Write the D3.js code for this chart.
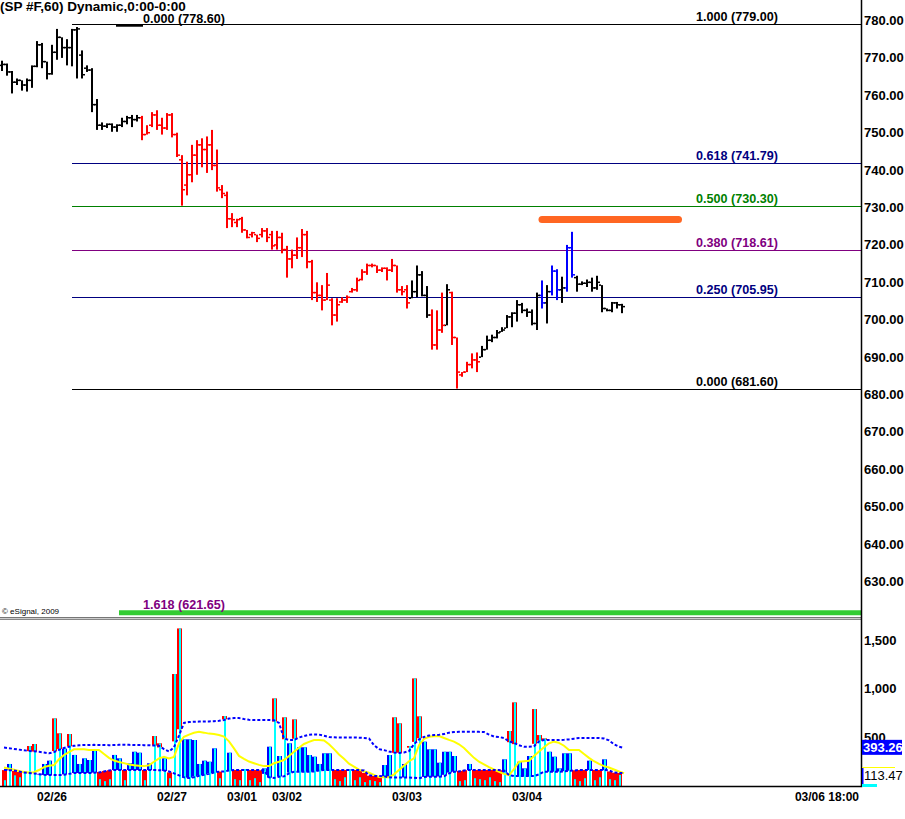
<!DOCTYPE html>
<html>
<head>
<meta charset="utf-8">
<script src="https://cdn.jsdelivr.net/npm/d3@7"></script>
<style>
  body { margin: 0; background: #fff; }
  svg { display: block; }
  text { font-family: "Liberation Sans", Arial, sans-serif; }
</style>
</head>
<body>
<div id="chart"></div>
<script>
// 60 minute bars, oldest first
var openPx = [768.0, 768.25, 766.25, 763.5, 764.0, 762.75, 764.0, 767.75, 773.5, 769.0, 765.75, 771.5, 775.5, 772.75, 772.75, 777.5, 770.75, 767.25, 766.75, 757.5,
  752.0, 751.75, 752.25, 751.5, 752.0, 753.0, 754.0, 753.5, 754.0, 749.5, 752.0, 754.75, 752.0, 751.25, 754.75, 749.5, 742.75, 736.0, 738.75, 744.0,
  746.75, 745.5, 746.75, 741.25, 734.75, 733.25, 727.0, 726.0, 727.0, 724.0, 722.75, 722.75, 722.75, 723.75, 722.75, 720.0, 722.0, 718.75, 716.25, 717.25,
  719.25, 722.75, 715.5, 707.25, 706.5, 705.25, 705.25, 701.25, 704.75, 705.25, 707.5, 708.0, 710.75, 712.75, 714.5, 714.5, 713.25, 713.75, 713.25, 714.5,
  708.0, 708.0, 705.75, 707.5, 712.0, 706.5, 701.25, 693.25, 697.25, 698.5, 707.25, 695.25, 685.25, 686.0, 688.0, 689.25, 690.0, 692.0, 694.5, 695.25,
  696.75, 697.75, 700.75, 701.75, 704.0, 702.5, 702.0, 699.0, 706.5, 704.5, 707.5, 713.0, 708.0, 708.5, 719.25, 711.25, 709.5, 709.75, 710.0, 708.5,
  709.25, 703.0, 702.5, 704.5, 704.0];
var highPx = [769.25, 768.5, 766.5, 764.5, 764.0, 764.5, 768.0, 774.5, 774.0, 769.0, 773.5, 777.75, 775.5, 775.0, 777.75, 778.25, 772.0, 768.0, 767.25, 759.0,
  752.75, 752.5, 752.5, 752.25, 754.0, 754.5, 754.75, 754.75, 754.5, 752.0, 755.5, 756.0, 754.0, 755.25, 755.25, 750.0, 744.0, 742.25, 746.75, 748.0,
  748.5, 749.0, 750.75, 745.5, 736.0, 734.25, 728.5, 727.0, 727.5, 724.0, 723.5, 722.75, 724.5, 724.5, 723.75, 723.75, 723.25, 719.75, 718.75, 722.0,
  724.25, 723.75, 716.0, 710.0, 709.25, 712.5, 705.75, 705.75, 706.0, 706.5, 708.5, 711.25, 713.5, 715.0, 715.0, 714.5, 714.0, 714.0, 716.25, 714.5,
  709.0, 709.25, 710.5, 714.5, 713.0, 709.0, 702.75, 702.5, 707.25, 709.5, 707.5, 695.25, 686.0, 688.75, 691.0, 691.25, 693.0, 695.75, 696.0, 697.25,
  698.0, 701.25, 702.0, 705.25, 704.5, 703.0, 702.75, 707.25, 710.5, 709.25, 714.5, 713.5, 711.5, 720.0, 723.5, 711.75, 710.25, 710.75, 711.25, 711.75,
  709.25, 703.0, 704.75, 704.75, 704.25];
var lowPx = [766.5, 765.25, 760.5, 762.75, 761.25, 761.0, 762.0, 767.5, 767.25, 764.25, 765.5, 769.5, 770.0, 768.0, 767.75, 764.5, 764.5, 766.25, 755.5, 750.75,
  750.75, 751.25, 750.25, 750.25, 751.5, 752.25, 751.5, 753.0, 748.0, 749.5, 751.5, 750.75, 749.5, 750.75, 748.75, 743.5, 730.5, 733.25, 736.75, 738.75,
  740.75, 739.25, 740.0, 734.25, 732.5, 724.5, 724.75, 724.75, 723.25, 721.75, 722.0, 720.75, 722.0, 720.75, 718.75, 718.75, 717.75, 711.25, 713.75, 716.25,
  716.75, 713.75, 705.25, 704.75, 702.5, 705.25, 698.5, 699.5, 704.5, 704.5, 707.25, 707.5, 710.5, 712.0, 714.0, 712.5, 712.75, 710.5, 712.75, 707.25,
  706.5, 703.0, 705.75, 706.0, 706.25, 700.5, 692.0, 692.0, 696.5, 698.5, 693.25, 681.6, 684.75, 686.0, 687.0, 686.0, 690.0, 692.0, 694.0, 695.0,
  696.75, 697.75, 698.0, 699.5, 701.75, 700.75, 698.5, 697.25, 703.0, 699.0, 706.5, 705.25, 704.5, 707.5, 711.25, 707.5, 709.25, 708.75, 707.5, 708.0,
  702.0, 702.25, 702.0, 703.0, 701.75];
var closePx = [768.25, 766.25, 763.5, 764.0, 762.75, 764.0, 767.75, 773.5, 769.0, 765.75, 771.5, 775.5, 772.75, 772.75, 777.5, 777.75, 765.5, 766.75, 757.5, 752.0,
  751.75, 752.25, 751.5, 752.0, 753.0, 754.0, 753.5, 754.0, 749.5, 750.0, 754.75, 752.0, 751.25, 754.75, 749.5, 744.0, 734.75, 738.75, 744.0, 746.75,
  745.5, 746.75, 741.25, 735.25, 733.75, 727.0, 726.75, 726.75, 724.0, 722.0, 723.25, 721.75, 723.75, 722.0, 719.75, 722.0, 718.75, 716.25, 717.25, 719.25,
  722.75, 715.5, 707.25, 706.5, 705.25, 709.25, 701.25, 704.0, 705.25, 706.0, 708.0, 710.5, 712.75, 714.5, 714.5, 713.25, 713.75, 713.25, 714.5, 708.0,
  707.5, 704.5, 707.5, 712.0, 706.5, 701.25, 693.25, 697.25, 698.5, 708.0, 695.25, 686.0, 686.0, 688.0, 689.25, 688.75, 692.0, 694.5, 695.25, 696.5,
  697.25, 700.75, 701.75, 704.0, 702.5, 702.0, 699.0, 706.5, 704.5, 707.5, 713.0, 708.0, 708.5, 719.25, 712.0, 709.5, 709.75, 710.0, 708.5, 710.0,
  703.0, 702.5, 704.5, 704.0, 703.5];
// bar colour runs: k = black, r = red, b = blue
var barColorRuns = [["k", 28], ["r", 54], ["k", 4], ["r", 3], ["k", 1], ["r", 6], ["k", 12], ["b", 1], ["k", 1], ["b", 2], ["k", 1], ["b", 2], ["k", 10]];

// volume study
var volume = [60, 227, 110, 90, 140, 412, 433, 125, 227, 261, 697, 543, 385, 536, 320, 227, 285, 268, 371, 70,
  50, 70, 320, 285, 60, 234, 353, 343, 60, 234, 515, 440, 285, 80, 1154, 1624, 481, 481, 474, 227,
  261, 250, 388, 80, 721, 343, 70, 60, 175, 60, 80, 40, 182, 405, 903, 309, 708, 440, 687, 399,
  399, 319, 302, 227, 337, 337, 70, 50, 90, 170, 60, 90, 40, 60, 50, 40, 216, 319, 708, 646,
  227, 412, 1109, 718, 457, 378, 378, 240, 353, 353, 309, 50, 60, 227, 80, 70, 60, 90, 50, 40,
  275, 567, 862, 250, 182, 309, 793, 525, 491, 353, 302, 182, 337, 337, 70, 50, 80, 261, 60, 90,
  275, 70, 60, 113.47];
var volUpper = [396, 390, 382, 375, 368, 362, 357, 353, 345, 337, 350, 372, 392, 405, 414, 420,
  422, 423, 424, 423, 422, 421, 422, 424, 425, 424, 423, 422, 421, 420, 418, 415,
  380, 355, 400, 520, 650, 660, 662, 664, 665, 666, 668, 672, 680,
  695, 700, 700, 690, 682, 680, 680, 681, 680, 678,
  650, 490, 474, 474, 500, 515, 528, 532, 530, 518,
  505, 502, 500, 500, 500, 500, 498, 495, 490,
  420, 380, 370, 355, 345, 340, 345, 360, 430, 480, 505,
  520, 525, 528, 535, 550, 556, 559, 560, 560, 559, 558, 556,
  530, 510, 505, 495, 460, 443, 420, 405, 405, 410, 460, 474,
  474, 474, 474, 476, 480, 488, 494, 494, 494, 494, 494, 490,
  470, 430, 405, 393.26];
var volLower = [165, 163, 160, 150, 138, 134, 130, 122, 115, 113, 113, 113, 115,
  125, 134, 134, 134, 134, 136, 140,
  150, 160, 165, 165, 165, 165, 165, 165, 165, 165, 165, 163, 160, 150,
  130, 110, 90, 82, 90, 105, 115, 125, 140, 147, 150,
  160, 165, 165, 165, 165, 165, 165, 160,
  90, 82, 96, 100, 130, 147, 147, 147, 147, 150,
  160, 165, 165, 165, 165, 165, 165, 165, 165, 160,
  110, 103, 103, 100, 90, 88, 88, 88, 88, 85,
  80, 92, 96, 96, 96, 100,
  130, 147, 150, 160, 165, 165, 165, 165, 165, 165, 165, 160,
  113, 103, 103, 103, 103, 103,
  120, 147, 147, 147, 147, 150, 155,
  160, 165, 165, 165, 165, 165, 165, 160,
  140, 134, 134];
var volAvg = [190, 178, 168, 155, 145, 140, 142, 165, 195, 208,
  216, 275, 320, 350, 378, 380, 378, 372, 371, 371,
  330, 290, 262, 248, 236, 222, 213, 208, 205, 214,
  250, 285, 300, 285, 300, 440, 508, 530, 548, 558,
  550, 540, 535, 525, 510, 460, 388, 310, 280, 252,
  235, 218, 205, 205, 234, 250, 268, 310, 353, 395,
  433, 455, 474, 475, 470, 430, 380, 325, 280, 230,
  200, 168, 150, 138, 115, 92, 90, 90, 120, 165,
  210, 255, 285, 420, 485, 508, 512, 515, 495, 475,
  458, 430, 392, 340, 290, 250, 222, 195, 170, 145,
  125, 113, 175, 250, 255, 261, 310, 355, 400, 440,
  457, 445, 415, 371, 371, 371, 330, 290, 255, 228,
  205, 190, 170, 150, 131];

var priceTicks = [630, 640, 650, 660, 670, 680, 690, 700, 710, 720, 730, 740, 750, 760, 770, 780];
var volTicks = [500, 1000, 1500];
var dateTicks = [
  { label: "02/26", bar: 11 },
  { label: "02/27", bar: 35 },
  { label: "03/01", bar: 49 },
  { label: "03/02", bar: 58 },
  { label: "03/03", bar: 82 },
  { label: "03/04", bar: 106 }
];
var lastTimeLabel = "03/06 18:00";

// retracement drawn from the 779.00 high to the 681.60 low
var fibLevels = [
  { ratio: "1.000", price: 779.0 },
  { ratio: "0.618", price: 741.79 },
  { ratio: "0.500", price: 730.3 },
  { ratio: "0.380", price: 718.61 },
  { ratio: "0.250", price: 705.95 },
  { ratio: "0.000", price: 681.6 }
];
// extension drawn from 778.60
var fibExtension = [
  { ratio: "0.000", price: 778.6 },
  { ratio: "1.618", price: 621.65 }
];
var orangeMark = { fromBar: 109, toBar: 136.3, price: 726.8 };

var width = 905, height = 819;
var axisX = 861.5;
var fibColor = {
  "1.000": "#000000", "0.618": "#000080", "0.500": "#008000",
  "0.380": "#800080", "0.250": "#000080", "0.000": "#000000"
};

var svg = d3.select("#chart").append("svg")
  .attr("width", width).attr("height", height)
  .style("background", "#fff");

var x = d3.scaleLinear().domain([1, 125]).range([2, 622]);
var y = d3.scaleLinear().domain([620.52, 785.48]).range([617, 0]);
var yv = d3.scaleLinear().domain([0, 1711]).range([786, 620]);

// expand colour runs
var colorOf = { k: "#000000", r: "#ff0000", b: "#0000ff" };
var barColor = [];
barColorRuns.forEach(function (r) {
  for (var n = 0; n < r[1]; n++) barColor.push(colorOf[r[0]]);
});

var bars = highPx.map(function (h, i) {
  return { i: i + 1, o: openPx[i], h: h, l: lowPx[i], c: closePx[i], col: barColor[i] };
});

//header
svg.append("text").attr("x", 0).attr("y", 11)
  .attr("font-size", 13.5).attr("font-weight", "bold")
  .text("(SP #F,60) Dynamic,0:00-0:00");

// fib retracement lines
var fibStart = x(15);
svg.selectAll(".fib").data(fibLevels).enter().append("line")
  .attr("x1", fibStart).attr("x2", axisX)
  .attr("y1", function (d) { return Math.round(y(d.price)) + 0.5; })
  .attr("y2", function (d) { return Math.round(y(d.price)) + 0.5; })
  .attr("stroke", function (d) { return fibColor[d.ratio]; })
  .attr("stroke-width", 1);
svg.selectAll(".fibText").data(fibLevels).enter().append("text")
  .attr("x", 696)
  .attr("y", function (d) { return Math.round(y(d.price)) - 3; })
  .attr("font-size", 12.6).attr("font-weight", "bold")
  .attr("fill", function (d) { return fibColor[d.ratio]; })
  .text(function (d) { return d.ratio + " (" + d.price.toFixed(2) + ")"; });

// extension: short line at the start, long green line at 1.618
svg.append("line")
  .attr("x1", x(23.8)).attr("x2", x(29.2))
  .attr("y1", y(fibExtension[0].price)).attr("y2", y(fibExtension[0].price))
  .attr("stroke", "#000").attr("stroke-width", 2);
svg.append("text").attr("x", 143).attr("y", Math.round(y(fibExtension[0].price)) - 3)
  .attr("font-size", 12.6).attr("font-weight", "bold").attr("fill", "#000")
  .text(fibExtension[0].ratio + " (" + fibExtension[0].price.toFixed(2) + ")");
svg.append("line")
  .attr("x1", x(24.4)).attr("x2", axisX)
  .attr("y1", y(fibExtension[1].price)).attr("y2", y(fibExtension[1].price))
  .attr("stroke", "#33cc33").attr("stroke-width", 5);
svg.append("text").attr("x", 143).attr("y", Math.round(y(fibExtension[1].price)) - 4)
  .attr("font-size", 12.6).attr("font-weight", "bold").attr("fill", "#800080")
  .text(fibExtension[1].ratio + " (" + fibExtension[1].price.toFixed(2) + ")");

// orange marker
svg.append("line")
  .attr("x1", x(orangeMark.fromBar)).attr("x2", x(orangeMark.toBar))
  .attr("y1", y(orangeMark.price)).attr("y2", y(orangeMark.price))
  .attr("stroke", "#ff6622").attr("stroke-width", 7).attr("stroke-linecap", "round");

// price bars
var pg = svg.append("g");
pg.selectAll(".hl").data(bars).enter().append("rect")
  .attr("x", function (d) { return Math.round(x(d.i)) - 1; })
  .attr("y", function (d) { return y(d.h); })
  .attr("width", 2)
  .attr("height", function (d) { return Math.max(1, y(d.l) - y(d.h)); })
  .attr("fill", function (d) { return d.col; });
pg.selectAll(".op").data(bars).enter().append("rect")
  .attr("x", function (d) { return Math.round(x(d.i)) - 3; })
  .attr("y", function (d) { return y(d.o) - 0.75; })
  .attr("width", 2).attr("height", 1.5)
  .attr("fill", function (d) { return d.col; });
pg.selectAll(".cl").data(bars).enter().append("rect")
  .attr("x", function (d) { return Math.round(x(d.i)) + 1; })
  .attr("y", function (d) { return y(d.c) - 0.75; })
  .attr("width", 2).attr("height", 1.5)
  .attr("fill", function (d) { return d.col; });

svg.append("text").attr("x", 2).attr("y", 614)
  .attr("font-size", 8).text("\u00a9 eSignal, 2009");

// panel separator
svg.append("rect").attr("x", 0).attr("y", 617).attr("width", 862).attr("height", 1).attr("fill", "#777");
svg.append("rect").attr("x", 0).attr("y", 618).attr("width", 862).attr("height", 1).attr("fill", "#ccc");
svg.append("rect").attr("x", 0).attr("y", 619).attr("width", 862).attr("height", 1).attr("fill", "#888");

// volume slots
var slots = volume.map(function (v, j) {
  var up = (volUpper[j] + volUpper[j + 1]) / 2;
  var lo = (volLower[j] + volLower[j + 1]) / 2;
  return { j: j, v: v, up: up, lo: lo, x0: Math.round(x(j + 1)) };
});
var vg = svg.append("g");
vg.selectAll(".lowv").data(slots.filter(function (d) { return d.v < d.lo; })).enter().append("rect")
  .attr("x", function (d) { return d.x0; }).attr("width", 5)
  .attr("y", function (d) { return yv(d.lo); })
  .attr("height", function (d) { return yv(0) - yv(d.lo); })
  .attr("fill", "#ff0000");
vg.selectAll(".midv").data(slots.filter(function (d) { return d.v >= d.lo && d.v <= d.up; })).enter().append("rect")
  .attr("x", function (d) { return d.x0; }).attr("width", 5)
  .attr("y", function (d) { return yv(d.v); })
  .attr("height", function (d) { return yv(d.lo) - yv(d.v); })
  .attr("fill", "#0000ff");
vg.selectAll(".hiv").data(slots.filter(function (d) { return d.v > d.up; })).enter().append("rect")
  .attr("x", function (d) { return d.x0; }).attr("width", 5)
  .attr("y", function (d) { return yv(d.v); })
  .attr("height", function (d) { return yv(d.up) - yv(d.v); })
  .attr("fill", "#ff0000");
vg.selectAll(".cyan").data(slots).enter().append("rect")
  .attr("x", function (d) { return d.x0 + 2; }).attr("width", 2)
  .attr("y", function (d) { return yv(d.v); })
  .attr("height", function (d) { return yv(0) - yv(d.v); })
  .attr("fill", "#00ffff");

var bandLine = function (arr) {
  return d3.line().x(function (d, i) { return x(i + 1) + 2; }).y(function (d) { return yv(d); })(arr);
};
svg.append("path").attr("d", bandLine(volAvg))
  .attr("fill", "none").attr("stroke", "#ffff00").attr("stroke-width", 2);
[volUpper, volLower].forEach(function (arr) {
  svg.append("path").attr("d", bandLine(arr))
    .attr("fill", "none").attr("stroke", "#0000ff").attr("stroke-width", 2)
    .attr("stroke-dasharray", "3,2");
});

// axes
svg.append("line").attr("x1", axisX).attr("x2", axisX).attr("y1", 0).attr("y2", 787)
  .attr("stroke", "#000").attr("stroke-width", 1.5);
svg.append("line").attr("x1", 0).attr("x2", axisX + 0.75).attr("y1", 786.5).attr("y2", 786.5)
  .attr("stroke", "#000").attr("stroke-width", 1.5);

svg.selectAll(".pt").data(priceTicks).enter().append("text")
  .attr("x", 864).attr("y", function (d) { return y(d) + 4.5; })
  .attr("font-size", 13).attr("font-weight", "bold")
  .text(function (d) { return d.toFixed(2); });
svg.selectAll(".vt").data(volTicks).enter().append("text")
  .attr("x", 864).attr("y", function (d) { return yv(d) + 4.5; })
  .attr("font-size", 13).attr("font-weight", "bold")
  .text(d3.format(","));

// last-value markers
var lastUp = volUpper[volUpper.length - 1];
var lastVol = volume[volume.length - 1];
svg.append("rect").attr("x", 862).attr("y", yv(lastUp) - 8).attr("width", 40).attr("height", 15)
  .attr("fill", "#0000ff");
svg.append("text").attr("x", 863).attr("y", yv(lastUp) + 4.5)
  .attr("font-size", 13).attr("font-weight", "bold").attr("fill", "#fff")
  .text(lastUp.toFixed(2));
svg.append("line").attr("x1", 862).attr("x2", 895).attr("y1", 767.5).attr("y2", 767.5)
  .attr("stroke", "#ffff00").attr("stroke-width", 1);
svg.append("rect").attr("x", 862).attr("y", 768).attr("width", 1.5).attr("height", 17).attr("fill", "#0000ff");
svg.append("rect").attr("x", 862).attr("y", 784).attr("width", 15).attr("height", 3).attr("fill", "#00ffff");
svg.append("text").attr("x", 864).attr("y", yv(lastVol) + 5)
  .attr("font-size", 13).attr("fill", "#000")
  .text(lastVol.toFixed(2));

// date labels
svg.selectAll(".dt").data(dateTicks).enter().append("text")
  .attr("x", function (d) { return x(d.bar); }).attr("y", 801)
  .attr("text-anchor", "middle").attr("font-size", 12).attr("font-weight", "bold")
  .text(function (d) { return d.label; });
svg.append("text").attr("x", 859).attr("y", 801)
  .attr("text-anchor", "end").attr("font-size", 12).attr("font-weight", "bold")
  .text(lastTimeLabel);
</script>
</body>
</html>
